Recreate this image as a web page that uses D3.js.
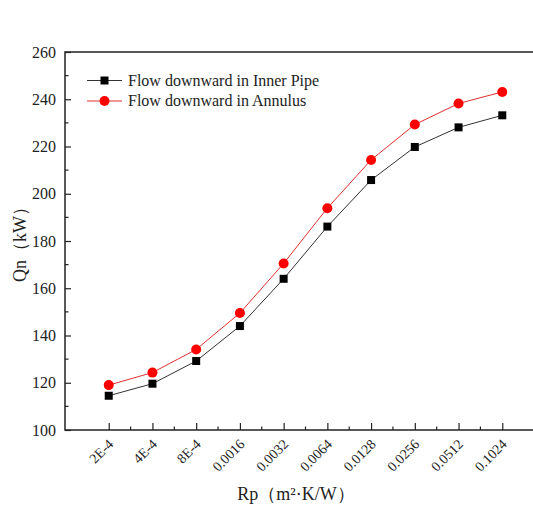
<!DOCTYPE html>
<html>
<head>
<meta charset="utf-8">
<script src="https://cdn.jsdelivr.net/npm/d3@7"></script>
<style>
  body { margin: 0; background: #fff; }
  svg { display: block; }
</style>
</head>
<body>
<div id="chart"></div>
<script>
const categories = ["2E-4", "4E-4", "8E-4", "0.0016", "0.0032", "0.0064", "0.0128", "0.0256", "0.0512", "0.1024"];
const innerPipe = [114.5, 119.6, 129.2, 144.0, 164.0, 186.1, 205.8, 219.8, 228.1, 233.2];
const annulus = [119.0, 124.3, 134.1, 149.5, 170.5, 193.9, 214.3, 229.3, 238.2, 243.1];
const yTicks = [100, 120, 140, 160, 180, 200, 220, 240, 260];
const seriesNames = ["Flow downward in Inner Pipe", "Flow downward in Annulus"];

const width = 533, height = 508;
const plotLeft = 65, plotRight = 546, plotTop = 52, plotBottom = 430;
const serif = "'Liberation Serif', 'Times New Roman', serif";

const svg = d3.select("#chart").append("svg")
    .attr("width", width)
    .attr("height", height);

const x = d3.scalePoint().domain(categories).range([plotLeft, plotRight]).padding(1);
const y = d3.scaleLinear().domain([100, 260]).range([plotBottom, plotTop]);

// frame (right side runs off the picture)
svg.append("rect")
    .attr("x", plotLeft).attr("y", plotTop)
    .attr("width", plotRight - plotLeft).attr("height", plotBottom - plotTop)
    .attr("fill", "none").attr("stroke", "#222").attr("stroke-width", 1.5);

// y axis: ticks inward
const yAxis = d3.axisLeft(y).tickValues(yTicks).tickSizeInner(-6).tickSizeOuter(0).tickPadding(9);
const gy = svg.append("g").attr("transform", `translate(${plotLeft},0)`).call(yAxis);
gy.select(".domain").remove();
gy.selectAll(".tick line").attr("stroke", "#222").attr("stroke-width", 1.2);
gy.selectAll(".tick text")
    .style("font-family", serif).style("font-size", "16px")
    .attr("fill", "#222");

const yMinor = d3.range(110, 260, 20);
svg.append("g").selectAll("line").data(yMinor).join("line")
    .attr("x1", plotLeft).attr("x2", plotLeft + 3.5)
    .attr("y1", d => y(d)).attr("y2", d => y(d))
    .attr("stroke", "#222").attr("stroke-width", 1.2);

// x axis: ticks inward, rotated labels
const xAxis = d3.axisBottom(x).tickSizeInner(-7).tickSizeOuter(0).tickPadding(0);
const gx = svg.append("g").attr("transform", `translate(0,${plotBottom})`).call(xAxis);
gx.select(".domain").remove();
gx.selectAll(".tick line").attr("stroke", "#222").attr("stroke-width", 1.2);
gx.selectAll(".tick text")
    .style("font-family", serif).style("font-size", "14px")
    .attr("fill", "#222")
    .attr("text-anchor", "end")
    .attr("y", 0)
    .attr("dy", null)
    .attr("transform", "translate(5,15) rotate(-45)");

const xMinor = categories.slice(1).map((c, i) => (x(categories[i]) + x(c)) / 2);
svg.append("g").selectAll("line").data(xMinor).join("line")
    .attr("x1", d => d).attr("x2", d => d)
    .attr("y1", plotBottom).attr("y2", plotBottom - 3.5)
    .attr("stroke", "#222").attr("stroke-width", 1.2);

// axis titles
svg.append("text")
    .attr("transform", `translate(26,240) rotate(-90)`)
    .attr("text-anchor", "middle")
    .style("font-family", serif).style("font-size", "18px")
    .attr("fill", "#222")
    .text("Qn（kW）");

svg.append("text")
    .attr("x", 296).attr("y", 500)
    .attr("text-anchor", "middle")
    .style("font-family", serif).style("font-size", "18px")
    .attr("fill", "#222")
    .text("Rp（m²·K/W）");

// series
const line = d3.line().x((d, i) => x(categories[i])).y(d => y(d));

svg.append("path").datum(innerPipe)
    .attr("d", line).attr("fill", "none")
    .attr("stroke", "#333").attr("stroke-width", 1);
svg.append("path").datum(annulus)
    .attr("d", line).attr("fill", "none")
    .attr("stroke", "#e03030").attr("stroke-width", 1);

svg.append("g").selectAll("rect").data(innerPipe).join("rect")
    .attr("x", (d, i) => x(categories[i]) - 4)
    .attr("y", d => y(d) - 4)
    .attr("width", 8).attr("height", 8)
    .attr("fill", "#000");

svg.append("g").selectAll("circle").data(annulus).join("circle")
    .attr("cx", (d, i) => x(categories[i]))
    .attr("cy", d => y(d))
    .attr("r", 5)
    .attr("fill", "#f00");

// legend
const legend = svg.append("g");
const rows = [
    { name: seriesNames[0], color: "#333", mark: "square", y: 80.5 },
    { name: seriesNames[1], color: "#e03030", mark: "circle", y: 101 }
];
rows.forEach(r => {
    legend.append("line")
        .attr("x1", 87).attr("x2", 122)
        .attr("y1", r.y).attr("y2", r.y)
        .attr("stroke", r.color).attr("stroke-width", 1);
    if (r.mark === "square") {
        legend.append("rect").attr("x", 100.5).attr("y", r.y - 4)
            .attr("width", 8).attr("height", 8).attr("fill", "#000");
    } else {
        legend.append("circle").attr("cx", 104.5).attr("cy", r.y).attr("r", 5).attr("fill", "#f00");
    }
    legend.append("text")
        .attr("x", 128).attr("y", r.y + 5)
        .style("font-family", serif).style("font-size", "16px")
        .attr("fill", "#222")
        .text(r.name);
});
</script>
</body>
</html>
